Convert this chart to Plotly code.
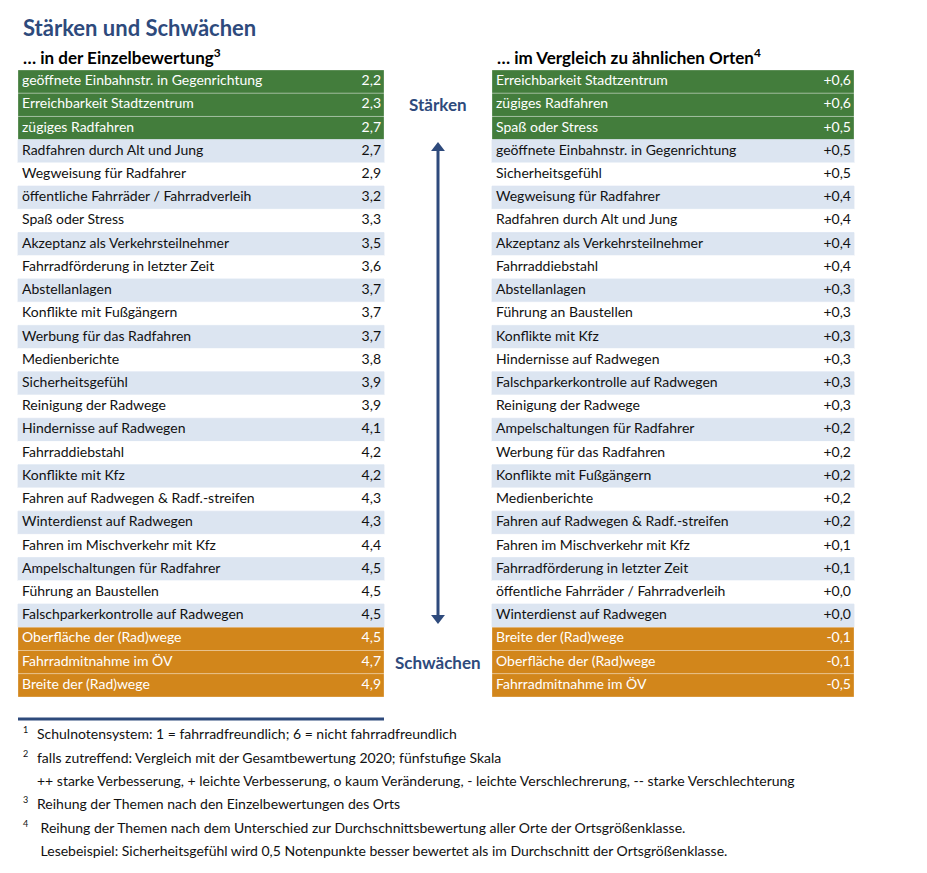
import plotly.graph_objects as go

### Data ###
left_labels = ['geöffnete Einbahnstr. in Gegenrichtung', 'Erreichbarkeit Stadtzentrum',
               'zügiges Radfahren', 'Radfahren durch Alt und Jung', 'Wegweisung für Radfahrer',
               'öffentliche Fahrräder / Fahrradverleih', 'Spaß oder Stress',
               'Akzeptanz als Verkehrsteilnehmer', 'Fahrradförderung in letzter Zeit',
               'Abstellanlagen', 'Konflikte mit Fußgängern', 'Werbung für das Radfahren',
               'Medienberichte', 'Sicherheitsgefühl', 'Reinigung der Radwege',
               'Hindernisse auf Radwegen', 'Fahrraddiebstahl', 'Konflikte mit Kfz',
               'Fahren auf Radwegen & Radf.-streifen', 'Winterdienst auf Radwegen',
               'Fahren im Mischverkehr mit Kfz', 'Ampelschaltungen für Radfahrer',
               'Führung an Baustellen', 'Falschparkerkontrolle auf Radwegen',
               'Oberfläche der (Rad)wege', 'Fahrradmitnahme im ÖV', 'Breite der (Rad)wege']
left_values = ['2,2', '2,3', '2,7', '2,7', '2,9', '3,2', '3,3', '3,5', '3,6', '3,7', '3,7',
               '3,7', '3,8', '3,9', '3,9', '4,1', '4,2', '4,2', '4,3', '4,3', '4,4', '4,5',
               '4,5', '4,5', '4,5', '4,7', '4,9']

right_labels = ['Erreichbarkeit Stadtzentrum', 'zügiges Radfahren', 'Spaß oder Stress',
                'geöffnete Einbahnstr. in Gegenrichtung', 'Sicherheitsgefühl',
                'Wegweisung für Radfahrer', 'Radfahren durch Alt und Jung',
                'Akzeptanz als Verkehrsteilnehmer', 'Fahrraddiebstahl', 'Abstellanlagen',
                'Führung an Baustellen', 'Konflikte mit Kfz', 'Hindernisse auf Radwegen',
                'Falschparkerkontrolle auf Radwegen', 'Reinigung der Radwege',
                'Ampelschaltungen für Radfahrer', 'Werbung für das Radfahren',
                'Konflikte mit Fußgängern', 'Medienberichte',
                'Fahren auf Radwegen & Radf.-streifen', 'Fahren im Mischverkehr mit Kfz',
                'Fahrradförderung in letzter Zeit', 'öffentliche Fahrräder / Fahrradverleih',
                'Winterdienst auf Radwegen', 'Breite der (Rad)wege',
                'Oberfläche der (Rad)wege', 'Fahrradmitnahme im ÖV']
right_values = ['+0,6', '+0,6', '+0,5', '+0,5', '+0,5', '+0,4', '+0,4', '+0,4', '+0,4',
                '+0,3', '+0,3', '+0,3', '+0,3', '+0,3', '+0,3', '+0,2', '+0,2', '+0,2',
                '+0,2', '+0,2', '+0,1', '+0,1', '+0,0', '+0,0', '-0,1', '-0,1', '-0,5']

n_strong = 3
n_weak = 3

footnotes = [
    ('1', 'Schulnotensystem: 1 = fahrradfreundlich; 6 = nicht fahrradfreundlich'),
    ('2', 'falls zutreffend: Vergleich mit der Gesamtbewertung 2020; fünfstufige Skala'),
    ('', '++ starke Verbesserung, + leichte Verbesserung, o kaum Veränderung, - leichte Verschlechrerung, -- starke Verschlechterung'),
    ('3', 'Reihung der Themen nach den Einzelbewertungen des Orts'),
    ('4', ' Reihung der Themen nach dem Unterschied zur Durchschnittsbewertung aller Orte der Ortsgrößenklasse.'),
    ('', ' Lesebeispiel: Sicherheitsgefühl wird 0,5 Notenpunkte besser bewertet als im Durchschnitt der Ortsgrößenklasse.'),
]

### Style ###
GREEN = '#437D3C'
ORANGE = '#D2861B'
LIGHT = '#DCE5F1'
BLUE = '#2E4A7C'
FONT = 'Lato'

W, H = 927, 873
OFF = 8  # page margin of the browser
top = 70
row_h = 23.22


def row_colors(n):
    fill, text, line = [], [], []
    for i in range(n):
        if i < n_strong:
            fill.append(GREEN); text.append('white'); line.append('rgba(255,255,255,0.35)')
        elif i >= n - n_weak:
            fill.append(ORANGE); text.append('white'); line.append('rgba(255,255,255,0.35)')
        elif i % 2 == 1:
            fill.append(LIGHT); text.append('#111111'); line.append(LIGHT)
        else:
            fill.append('white'); text.append('#111111'); line.append('white')
    return fill, text, line


def add_table(fig, labels, values, x0, x1):
    n = len(labels)
    ys = [top + row_h * (i + 0.5) for i in range(n)]
    fill, text, line = row_colors(n)
    fig.add_trace(go.Bar(orientation='h', y=ys, x=[x1 - x0] * n, base=x0,
                         width=row_h, marker_color=fill,
                         marker_line_color=line, marker_line_width=0.8,
                         hoverinfo='skip', showlegend=False))
    fig.add_trace(go.Scatter(x=[x0 + 4] * n, y=ys, mode='text', text=labels,
                             textposition='middle right',
                             textfont=dict(family=FONT, size=14, color=text),
                             hoverinfo='skip', showlegend=False))
    fig.add_trace(go.Scatter(x=[x1 - 3] * n, y=ys, mode='text', text=values,
                             textposition='middle left',
                             textfont=dict(family=FONT, size=14, color=text),
                             hoverinfo='skip', showlegend=False))


fig = go.Figure()
add_table(fig, left_labels, left_values, 18, 384)
add_table(fig, right_labels, right_values, 492, 854)

# double arrow between the tables
fig.add_trace(go.Scatter(x=[438, 438], y=[150, 616], mode='lines',
                         line=dict(color=BLUE, width=3),
                         hoverinfo='skip', showlegend=False))
fig.add_trace(go.Scatter(x=[438, 438], y=[148, 618], mode='markers',
                         marker=dict(symbol=['triangle-up', 'triangle-down'],
                                     size=12, color=BLUE),
                         hoverinfo='skip', showlegend=False))

# footnote rule
fig.add_trace(go.Scatter(x=[18, 384], y=[719, 719], mode='lines',
                         line=dict(color=BLUE, width=3),
                         hoverinfo='skip', showlegend=False))

ann = []
ann.append(dict(x=21, y=27, text='<b>Stärken und Schwächen</b>', xanchor='left',
                font=dict(family=FONT, size=22, color=BLUE)))
ann.append(dict(x=21, y=56, text='<b>… in der Einzelbewertung<sup>3</sup></b>', xanchor='left',
                font=dict(family=FONT, size=17, color='black')))
ann.append(dict(x=495, y=56, text='<b>… im Vergleich zu ähnlichen Orten<sup>4</sup></b>',
                xanchor='left', font=dict(family=FONT, size=17, color='black')))
ann.append(dict(x=438, y=104, text='<b>Stärken</b>', xanchor='center',
                font=dict(family=FONT, size=17, color=BLUE)))
ann.append(dict(x=438, y=662, text='<b>Schwächen</b>', xanchor='center',
                font=dict(family=FONT, size=17, color=BLUE)))

fy = [733, 757, 780, 803, 827, 850]
for (num, txt), y in zip(footnotes, fy):
    if num:
        ann.append(dict(x=21, y=y - 4, text=num, xanchor='left',
                        font=dict(family=FONT, size=9, color='#111111')))
    ann.append(dict(x=35, y=y, text=txt, xanchor='left',
                    font=dict(family=FONT, size=14, color='#111111')))

for a in ann:
    a.update(xref='x', yref='y', showarrow=False, yanchor='middle')

fig.update_layout(
    width=W, height=H, margin=dict(l=0, r=0, t=0, b=0),
    paper_bgcolor='white', plot_bgcolor='white',
    barmode='overlay', annotations=ann,
    xaxis=dict(range=[OFF, W + OFF], visible=False, fixedrange=True),
    yaxis=dict(range=[H + OFF, OFF], visible=False, fixedrange=True),
)

fig.write_html('out.html')
